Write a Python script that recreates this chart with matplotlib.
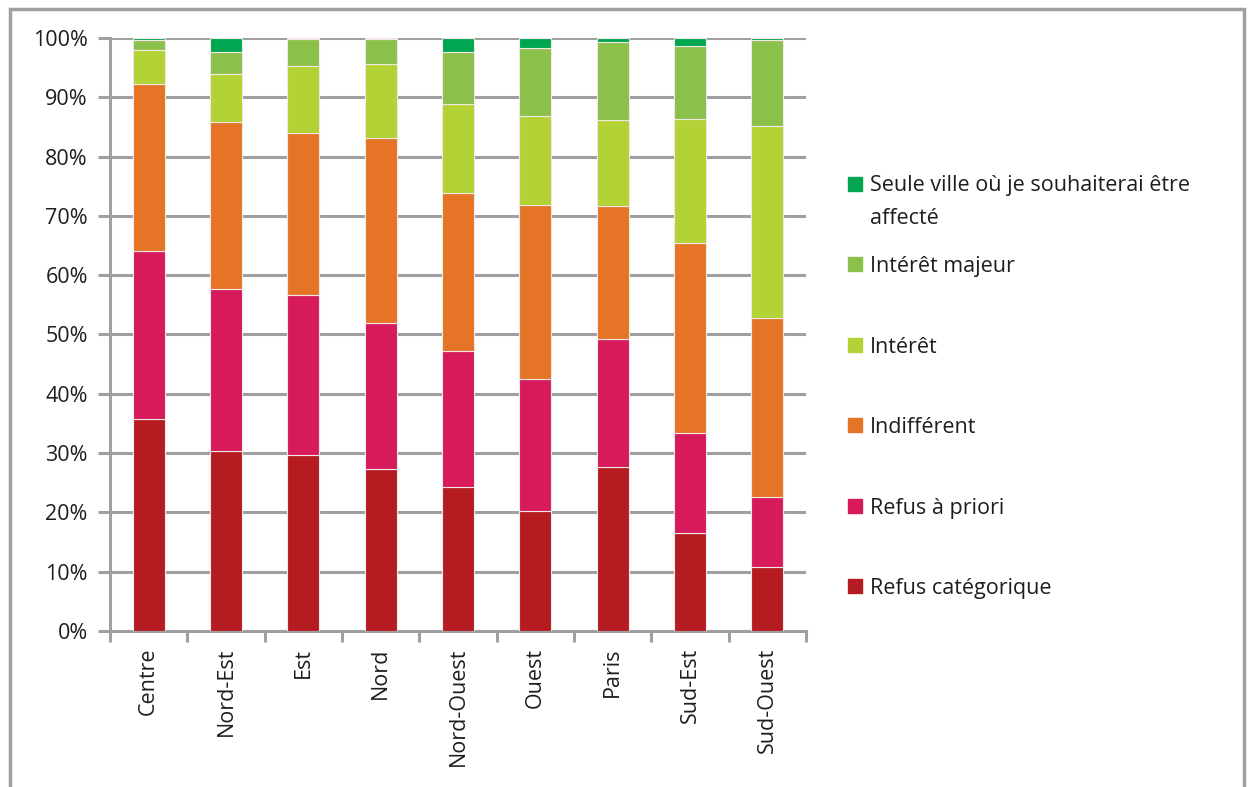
import numpy as np
import matplotlib
import matplotlib.pyplot as plt
from matplotlib.patches import Rectangle

regions = ['Centre', 'Nord-Est', 'Est', 'Nord', 'Nord-Ouest', 'Ouest', 'Paris', 'Sud-Est', 'Sud-Ouest']

# shares in %, bottom to top
refus_cat = [35.8, 30.4, 29.7, 27.3, 24.3, 20.2, 27.7, 16.5, 10.8]
refus_priori = [28.3, 27.3, 27.0, 24.7, 22.9, 22.3, 21.6, 16.9, 11.8]
indifferent = [28.1, 28.1, 27.3, 31.1, 26.7, 29.4, 22.3, 32.1, 30.1]
interet = [5.7, 8.1, 11.2, 12.5, 14.9, 14.9, 14.5, 20.9, 32.4]
interet_majeur = [1.8, 3.7, 4.6, 4.2, 8.8, 11.5, 13.2, 12.2, 14.5]
seule_ville = [0.3, 2.4, 0.2, 0.2, 2.4, 1.7, 0.7, 1.4, 0.4]

series = [
    ('Refus catégorique', refus_cat, '#B41C21'),
    ('Refus à priori', refus_priori, '#D61A5C'),
    ('Indifférent', indifferent, '#E57426'),
    ('Intérêt', interet, '#B3D235'),
    ('Intérêt majeur', interet_majeur, '#8BC04A'),
    ('Seule ville où je souhaiterai être\naffecté', seule_ville, '#00A650'),
]

plt.rcParams['font.family'] = ['Open Sans', 'DejaVu Sans']
matplotlib.rcParams.update({'font.size': 15.5})
txt_col = '#1E1E1E'

W, H = 1249, 787
fig = plt.figure(figsize=(W / 100, H / 100), dpi=100)
ax = fig.add_axes([110 / W, 1 - 631 / H, 696 / W, 593 / H])

grey = '#A0A0A2'
x = np.arange(len(regions))
bottom = np.zeros(len(regions))
for name, vals, col in series:
    vals = np.array(vals)
    ax.bar(x, vals, width=0.41, bottom=bottom, color=col, edgecolor='#F2E8E8',
           linewidth=0.8, label=name, zorder=3)
    bottom = bottom + vals

ax.set_xlim(-0.5, len(regions) - 0.5)
ax.set_ylim(0, 100)
ax.set_yticks(np.arange(0, 101, 10))
ax.set_yticklabels([f'{v}%' for v in range(0, 101, 10)], color=txt_col)
ax.yaxis.grid(True, color=grey, linewidth=2.2, zorder=0)
ax.set_axisbelow(True)

# x ticks at category boundaries, labels at centres
ax.set_xticks(np.arange(-0.5, len(regions), 1.0))
ax.set_xticklabels([])
ax.set_xticks(x, minor=True)
ax.set_xticklabels(regions, minor=True, rotation=90, color=txt_col)
ax.tick_params(axis='x', which='minor', length=0, pad=12)
ax.tick_params(axis='x', which='major', length=8, width=2.2, color=grey)
ax.tick_params(axis='y', length=9, width=2.2, color=grey, pad=7)

for s in ['top', 'right']:
    ax.spines[s].set_visible(False)
for s in ['left', 'bottom']:
    ax.spines[s].set_color(grey)
    ax.spines[s].set_linewidth(2.2)

# legend drawn by hand: one square + label per series, top entry first
y_first, step = 184, 80.4
for i, (name, vals, col) in enumerate(series[::-1]):
    yc = y_first + i * step
    fig.patches.append(Rectangle((848 / W, 1 - (yc + 7) / H), 14 / W, 14 / H,
                                 transform=fig.transFigure, color=col))
    if '\n' in name:
        # square sits next to the first line of a wrapped label
        fig.text(870 / W, 1 - (yc - 9) / H, name, ha='left', va='top',
                 color=txt_col, linespacing=1.75)
    else:
        fig.text(870 / W, 1 - yc / H, name, ha='left', va='center_baseline',
                 color=txt_col)

# outer frame
fig.patches.append(Rectangle((10 / W, -0.02), 1234 / W, 1.02 - 9 / H,
                             transform=fig.transFigure, fill=False,
                             edgecolor=grey, linewidth=2.5))

fig.savefig('out.png', dpi=100)
